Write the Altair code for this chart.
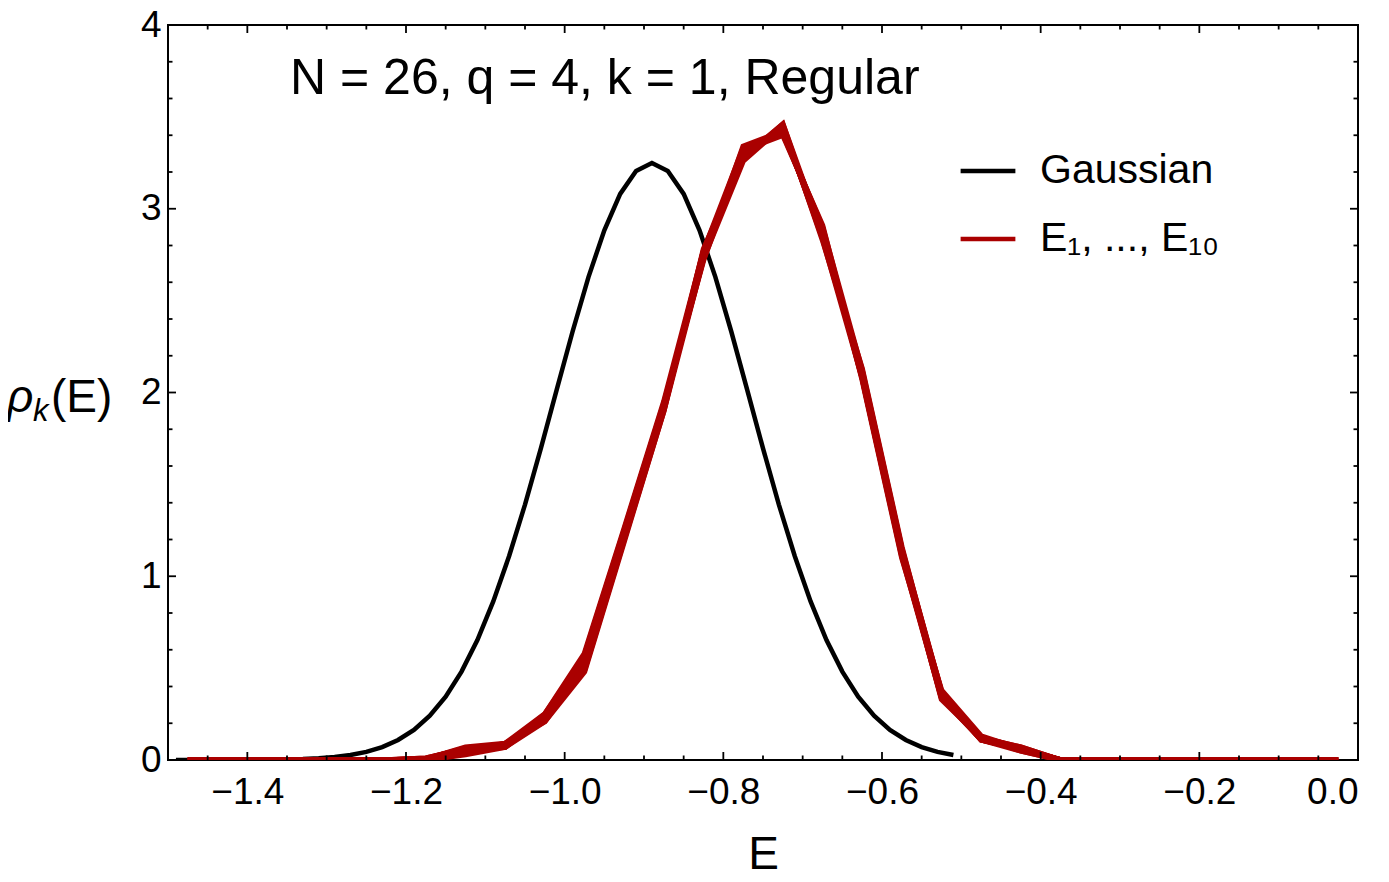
import altair as alt
import pandas as pd

# ---------------- data ----------------
# Gaussian reference curve, sampled every 0.02 from -1.49 to -0.51
E_GAUSS = [round(-1.49 + 0.02 * i, 2) for i in range(50)]
RHO_GAUSS = [0.000, 0.000, 0.000, 0.000, 0.000, 0.001, 0.002, 0.003, 0.005, 0.009,
             0.016, 0.027, 0.044, 0.070, 0.109, 0.164, 0.241, 0.345, 0.481, 0.653,
             0.863, 1.110, 1.390, 1.696, 2.016, 2.332, 2.628, 2.883, 3.081, 3.206,
             3.249, 3.206, 3.081, 2.883, 2.628, 2.332, 2.016, 1.696, 1.390, 1.110,
             0.863, 0.653, 0.481, 0.345, 0.241, 0.164, 0.109, 0.070, 0.044, 0.027]

# histogram bin centres for E_1 ... E_10
E_BINS = [round(-1.475 + 0.05 * i, 3) for i in range(30)]
Z = [0.0] * 7
RHO_1 = [0, 0, 0, 0, 0, 0, 0.000, 0.030, 0.070, 0.210, 0.480, 1.190, 1.900, 2.730, 3.260, 3.450, 2.840, 2.080, 1.110, 0.340, 0.110, 0.060, 0.000] + Z
RHO_2 = [0, 0, 0, 0, 0, 0, 0.005, 0.070, 0.090, 0.250, 0.580, 1.260, 1.950, 2.770, 3.330, 3.410, 2.900, 2.120, 1.150, 0.370, 0.120, 0.060, 0.000] + Z
RHO_3 = [0, 0, 0, 0, 0, 0, 0.000, 0.040, 0.080, 0.220, 0.500, 1.210, 1.920, 2.750, 3.280, 3.460, 2.860, 2.100, 1.130, 0.350, 0.120, 0.050, 0.000] + Z
RHO_4 = [0, 0, 0, 0, 0, 0, 0.010, 0.060, 0.080, 0.240, 0.550, 1.240, 1.930, 2.740, 3.310, 3.420, 2.880, 2.090, 1.120, 0.360, 0.110, 0.060, 0.000] + Z
RHO_5 = [0, 0, 0, 0, 0, 0, 0.000, 0.050, 0.070, 0.230, 0.520, 1.220, 1.910, 2.760, 3.290, 3.440, 2.850, 2.110, 1.140, 0.330, 0.120, 0.070, 0.000] + Z
RHO_6 = [0, 0, 0, 0, 0, 0, 0.005, 0.065, 0.085, 0.240, 0.570, 1.250, 1.940, 2.720, 3.320, 3.400, 2.910, 2.070, 1.100, 0.380, 0.130, 0.060, 0.000] + Z
RHO_7 = [0, 0, 0, 0, 0, 0, 0.000, 0.035, 0.075, 0.220, 0.490, 1.200, 1.900, 2.780, 3.270, 3.460, 2.830, 2.130, 1.160, 0.350, 0.110, 0.050, 0.000] + Z
RHO_8 = [0, 0, 0, 0, 0, 0, 0.005, 0.055, 0.080, 0.230, 0.540, 1.230, 1.920, 2.750, 3.300, 3.430, 2.870, 2.100, 1.130, 0.360, 0.120, 0.060, 0.000] + Z
RHO_9 = [0, 0, 0, 0, 0, 0, 0.000, 0.045, 0.090, 0.210, 0.510, 1.220, 1.930, 2.730, 3.340, 3.420, 2.890, 2.080, 1.120, 0.340, 0.120, 0.070, 0.000] + Z
RHO_10 = [0, 0, 0, 0, 0, 0, 0.010, 0.060, 0.070, 0.250, 0.560, 1.240, 1.910, 2.770, 3.280, 3.440, 2.860, 2.110, 1.140, 0.370, 0.110, 0.060, 0.000] + Z
RED_SERIES = [RHO_1, RHO_2, RHO_3, RHO_4, RHO_5, RHO_6, RHO_7, RHO_8, RHO_9, RHO_10]

NAME_GAUSS = "Gaussian"
NAME_RED = "E\u2081, ..., E\u2081\u2080"
TITLE = "N = 26, q = 4, k = 1, Regular"

X_MAJOR = [-1.4, -1.2, -1.0, -0.8, -0.6, -0.4, -0.2, 0.0]
X_MINOR = [round(-1.45 + 0.05 * i, 2) for i in range(29) if i % 4 != 1]
Y_MAJOR = [0, 1, 2, 3, 4]
Y_MINOR = [0.2, 0.4, 0.6, 0.8, 1.2, 1.4, 1.6, 1.8, 2.2, 2.4, 2.6, 2.8, 3.2, 3.4, 3.6, 3.8]

# ---------------- chart ----------------
W, H = 1190, 735
FONT = "Liberation Sans"
RED = "#aa0000"

df_g = pd.DataFrame({"E": E_GAUSS, "rho": RHO_GAUSS, "name": NAME_GAUSS})
rows = []
for s, vals in enumerate(RED_SERIES):
    for e, v in zip(E_BINS, vals):
        rows.append({"E": e, "rho": v, "name": NAME_RED, "series": s + 1})
df_r = pd.DataFrame(rows)

xscale = alt.Scale(domain=[-1.5, 0.0], nice=False, zero=False)
yscale = alt.Scale(domain=[0, 4], nice=False)
color = alt.Color(
    "name:N",
    scale=alt.Scale(domain=[NAME_GAUSS, NAME_RED], range=["black", RED]),
    legend=alt.Legend(
        title=None, orient="none", legendX=790, legendY=116,
        symbolType="stroke", symbolSize=3000, symbolStrokeWidth=4.5,
        labelFont=FONT, labelFontSize=41, labelColor="black",
        rowPadding=18, labelOffset=22, padding=0, labelLimit=400,
    ),
)

xaxis = alt.Axis(values=X_MAJOR, format=".1f", ticks=False, tickSize=0, domain=False,
                 grid=False, labelFont=FONT, labelFontSize=37, labelColor="black",
                 labelPadding=14, title="E", titleFont=FONT, titleFontSize=46,
                 titleFontWeight="normal", titleColor="black", titlePadding=22)
yaxis = alt.Axis(values=Y_MAJOR, format="d", ticks=False, tickSize=0, domain=False,
                 grid=False, labelFont=FONT, labelFontSize=37, labelColor="black",
                 labelPadding=7, title=None)

black = alt.Chart(df_g).mark_line(strokeWidth=4.5, clip=True).encode(
    x=alt.X("E:Q", scale=xscale, axis=xaxis),
    y=alt.Y("rho:Q", scale=yscale, axis=yaxis),
    color=color,
)
red = alt.Chart(df_r).mark_line(strokeWidth=5.5, clip=True).encode(
    x=alt.X("E:Q", scale=xscale),
    y=alt.Y("rho:Q", scale=yscale),
    color=color,
    detail="series:N",
)


def xticks(vals, y0, y1):
    return alt.Chart(pd.DataFrame({"v": vals})).mark_rule(color="black", strokeWidth=1.8).encode(
        x=alt.X("v:Q", scale=xscale), y=alt.value(y0), y2=alt.value(y1))


def yticks(vals, x0, x1):
    return alt.Chart(pd.DataFrame({"v": vals})).mark_rule(color="black", strokeWidth=1.8).encode(
        y=alt.Y("v:Q", scale=yscale), x=alt.value(x0), x2=alt.value(x1))


MAJ, MIN = 8, 4.5
ticks = [
    xticks(X_MAJOR, H, H - MAJ), xticks(X_MINOR, H, H - MIN),
    xticks(X_MAJOR, 0, MAJ), xticks(X_MINOR, 0, MIN),
    yticks(Y_MAJOR, 0, MAJ), yticks(Y_MINOR, 0, MIN),
    yticks(Y_MAJOR, W, W - MAJ), yticks(Y_MINOR, W, W - MIN),
]


def label(text, x, y, size, style="normal"):
    return alt.Chart(pd.DataFrame({"t": [text]})).mark_text(
        align="left", baseline="alphabetic", font=FONT, fontSize=size,
        fontStyle=style, color="black").encode(
        text="t:N", x=alt.value(x), y=alt.value(y))


texts = [
    label(TITLE, 122, 69, 50),
    label("\u03c1", -161, 387, 46, "italic"),
    label("k", -135, 396, 31, "italic"),
    label("(E)", -117, 387, 46),
]

chart = alt.layer(black, red, *ticks, *texts).properties(
    width=W, height=H,
    autosize=alt.AutoSizeParams(type="none"),
    padding={"left": 160, "top": 17, "right": 20, "bottom": 114},
).configure(background="white").configure_view(stroke="black", strokeWidth=2)

chart.save("out.html", embed_options={"renderer": "svg", "actions": False})
